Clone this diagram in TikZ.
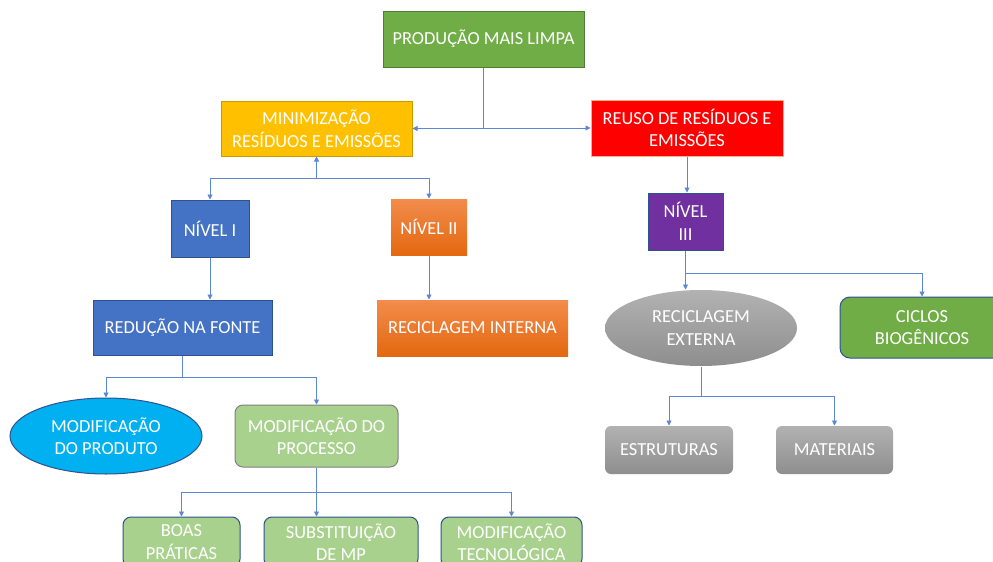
\documentclass[tikz,border=0pt]{standalone}
\usepackage{fontspec}
\setmainfont{Carlito}
\usetikzlibrary{arrows.meta,shapes.geometric}
\definecolor{conncol}{HTML}{5B87D3}
\definecolor{bordblue}{HTML}{2F528F}
\definecolor{orangetop}{HTML}{F28C4C}
\definecolor{orangebot}{HTML}{E4680F}
\definecolor{graytop}{HTML}{B2B2B2}
\definecolor{graybot}{HTML}{8E8E8E}
\definecolor{leafgreen}{HTML}{70AD47}
\definecolor{palegreen}{HTML}{A9D18E}

\begin{document}
\begin{tikzpicture}[x=1pt,y=-1pt,
  box/.style={draw,line width=1pt,inner sep=0pt,align=center,text=white,
    font=\fontsize{18.4}{22.5}\selectfont},
  oval/.style={box,ellipse},
  graybox/.style={box,draw=none,top color=graytop,bottom color=graybot},
  orangebox/.style={box,draw=none,top color=orangetop,bottom color=orangebot},
  conn/.style={-{Triangle[width=5pt,length=5pt]},draw=conncol,line width=0.9pt},
  plain/.style={draw=conncol,line width=0.9pt}]
  \clip (0,0) rectangle (993,562);
  \fill[white] (0,0) rectangle (993,562);
  % top level
  \node[box,fill=leafgreen,draw={rgb,255:red,80;green,126;blue,50},
    minimum width=201pt,minimum height=56pt] (pml) at (483.5,39) {PRODUÇÃO MAIS LIMPA};
  \node[box,fill={rgb,255:red,255;green,192;blue,0},draw={rgb,255:red,201;green,155;blue,0},
    minimum width=191pt,minimum height=55pt] (minim) at (316.5,128.5) {MINIMIZAÇÃO\\RESÍDUOS E EMISSÕES};
  \node[box,fill=red,draw={rgb,255:red,244;green,177;blue,131},
    minimum width=192pt,minimum height=56pt] (reuso) at (687,128) {REUSO DE RESÍDUOS E\\EMISSÕES};
  % levels
  \node[box,fill={rgb,255:red,68;green,114;blue,196},draw=bordblue,
    minimum width=78pt,minimum height=57pt] (nivA) at (210,228.5) {NÍVEL I};
  \node[orangebox,minimum width=76pt,minimum height=56pt] (nivB) at (429,227) {NÍVEL II};
  \node[box,fill={rgb,255:red,112;green,48;blue,160},draw=bordblue,
    minimum width=75pt,minimum height=57pt] (nivC) at (685.5,221.5) {NÍVEL\\III};
  % second row
  \node[box,fill={rgb,255:red,68;green,114;blue,196},draw=bordblue,
    minimum width=179pt,minimum height=55pt] (reduc) at (182.5,327.5) {REDUÇÃO NA FONTE};
  \node[orangebox,minimum width=191pt,minimum height=56pt] (recint) at (472.5,328) {RECICLAGEM INTERNA};
  \node[oval,draw=none,top color=graytop,bottom color=graybot,
    minimum width=192pt,minimum height=76pt] (recext) at (701,328) {RECICLAGEM\\EXTERNA};
  \node[box,rounded corners=10pt,fill=leafgreen,draw=bordblue,
    minimum width=164pt,minimum height=61pt] (ciclos) at (922,327.5) {CICLOS\\BIOGÊNICOS};
  % third row
  \node[oval,fill={rgb,255:red,0;green,176;blue,240},draw=bordblue,
    minimum width=192pt,minimum height=76pt] (prod) at (106,436) {MODIFICAÇÃO\\DO PRODUTO};
  \node[box,rounded corners=8pt,fill=palegreen,draw=gray,
    minimum width=163pt,minimum height=62pt] (proc) at (316.5,436) {MODIFICAÇÃO DO\\PROCESSO};
  \node[graybox,rounded corners=6pt,minimum width=128pt,minimum height=48pt] (estr) at (669,450) {ESTRUTURAS};
  \node[graybox,rounded corners=6pt,minimum width=117pt,minimum height=48pt] (mater) at (834.5,450) {MATERIAIS};
  % bottom row
  \node[box,rounded corners=8pt,fill=palegreen,draw=bordblue,
    minimum width=117pt,minimum height=50pt] (boas) at (181.5,542) {BOAS\\PRÁTICAS};
  \node[box,rounded corners=8pt,fill=palegreen,draw=bordblue,
    minimum width=154pt,minimum height=50pt] (subst) at (341,542) {SUBSTITUIÇÃO\\DE MP};
  \node[box,rounded corners=8pt,fill=palegreen,draw=bordblue,
    minimum width=141pt,minimum height=50pt] (tecno) at (511.5,542) {MODIFICAÇÃO\\TECNOLÓGICA};
  % junctions
  \coordinate (jmin) at (316.5,178);
  \coordinate (jred) at (182.5,377);
  \coordinate (jproc) at (316.5,492);
  \coordinate (jniv) at (685.5,273);
  \coordinate (jext) at (701,396);
  % connectors
  \draw[conn] (pml.south) |- (minim.east);
  \draw[conn] (pml.south) |- (reuso.west);
  \draw[conn] (jmin) -- (minim.south);
  \draw[conn] (jmin) -| (nivA.north);
  \draw[conn] (jmin) -| (nivB.north);
  \draw[conn] (nivA.south) -- (nivA.south |- reduc.north);
  \draw[conn] (nivB.south) -- (nivB.south |- recint.north);
  \draw[plain] (reduc.south) -- (jred);
  \draw[conn] (jred) -| (prod.north);
  \draw[conn] (jred) -| (proc.north);
  \draw[plain] (proc.south) -- (jproc);
  \draw[conn] (jproc) -| (boas.north);
  \draw[conn] (jproc) -- (jproc |- subst.north);
  \draw[conn] (jproc) -| (tecno.north);
  \draw[conn] (reuso.south) -- (reuso.south |- nivC.north);
  \draw[plain] (nivC.south) -- (jniv);
  \draw[conn] (jniv) -- (jniv |- recext.north);
  \draw[conn] (jniv) -| (ciclos.north);
  \draw[plain] (recext.south) -- (jext);
  \draw[conn] (jext) -| (estr.north);
  \draw[conn] (jext) -| (mater.north);
\end{tikzpicture}
\end{document}
